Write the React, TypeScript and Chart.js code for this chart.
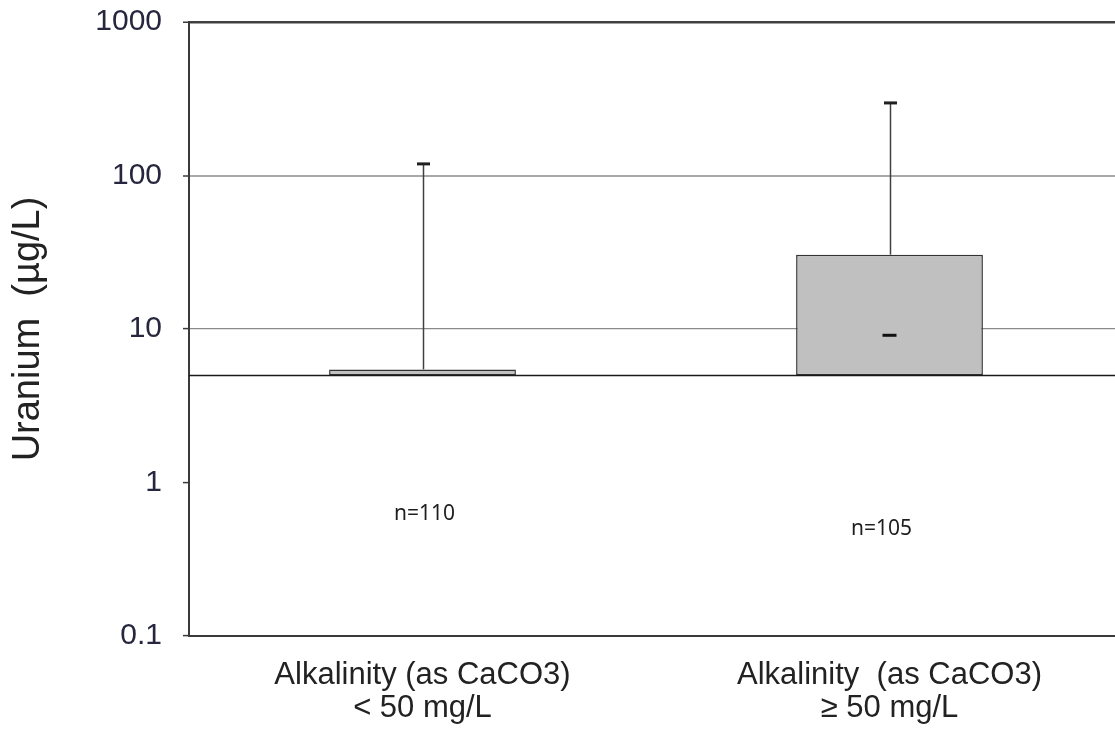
import React, { useEffect, useRef } from 'react';
import { Chart, registerables } from 'chart.js';

Chart.register(...registerables);

// ---- Data ----
const categories: string[][] = [
  ['Alkalinity (as CaCO3)', '< 50 mg/L'],
  ['Alkalinity  (as CaCO3)', '≥ 50 mg/L'],
];
const barBase = 5;
const barTops = [5.45, 30.5];
const errorTops = [119, 297];
const meanValues: (number | null)[] = [null, 9.1];
const sampleLabels = ['n=110', 'n=105'];
const yTickValues = [0.1, 1, 10, 100, 1000];
const yTickLabels = ['0.1', '1', '10', '100', '1000'];
const yTitle = 'Uranium  (µg/L)';

// ---- Styling / placement (not data) ----
const SAMPLE_LABEL_POS = [
  { dx: 2, v: 0.62 },
  { dx: -8, v: 0.494 },
];

const overlayPlugin = {
  id: 'overlay',
  afterDatasetsDraw(chart: any) {
    const { ctx, chartArea, scales } = chart;
    const x = scales.x;
    const y = scales.y;
    ctx.save();
    // base line at the bar origin
    const yb = Math.round(y.getPixelForValue(barBase)) + 0.5;
    ctx.strokeStyle = '#1a1a1a';
    ctx.lineWidth = 1.5;
    ctx.beginPath();
    ctx.moveTo(chartArea.left, yb);
    ctx.lineTo(chartArea.right, yb);
    ctx.stroke();

    // error bars
    errorTops.forEach((v, i) => {
      const cx = Math.round(x.getPixelForValue(i)) + 0.5;
      const y0 = y.getPixelForValue(barTops[i]);
      const y1 = y.getPixelForValue(v);
      ctx.strokeStyle = '#404040';
      ctx.lineWidth = 1.5;
      ctx.beginPath();
      ctx.moveTo(cx, y0);
      ctx.lineTo(cx, y1);
      ctx.stroke();
      ctx.strokeStyle = '#202020';
      ctx.lineWidth = 3;
      ctx.beginPath();
      ctx.moveTo(cx - 6.5, y1);
      ctx.lineTo(cx + 6.5, y1);
      ctx.stroke();
    });

    // sample size labels
    ctx.fillStyle = '#1e1e1e';
    ctx.font = '21px "Noto Sans", "Open Sans", sans-serif';
    ctx.textAlign = 'center';
    ctx.textBaseline = 'middle';
    sampleLabels.forEach((t, i) => {
      const p = SAMPLE_LABEL_POS[i];
      ctx.fillText(t, x.getPixelForValue(i) + p.dx, y.getPixelForValue(p.v));
    });
    ctx.restore();
  },
};

function gridColor(v: number) {
  if (v === 1000) return '#404040';
  if (v === 100) return '#a8a8a8';
  if (v === 10) return '#8a8a8a';
  return 'rgba(0,0,0,0)';
}
function gridWidth(v: number) {
  if (v === 1000) return 2.5;
  if (v === 100) return 2;
  return 1.2;
}

export default function App() {
  const ref = useRef<HTMLCanvasElement | null>(null);
  useEffect(() => {
    if (!ref.current) return;
    const chart = new Chart(ref.current, {
      type: 'bar',
      data: {
        labels: categories as any,
        datasets: [
          {
            type: 'line' as any,
            data: meanValues as any,
            showLine: false,
            pointStyle: 'line',
            pointRadius: 7,
            pointBorderWidth: 3,
            pointBorderColor: '#111',
            pointBackgroundColor: '#111',
            borderColor: '#111',
            order: 0,
          } as any,
          {
            type: 'bar',
            data: barTops.map((t) => [barBase, t]) as any,
            backgroundColor: '#c0c0c0',
            borderColor: '#333',
            borderWidth: 1.5,
            borderSkipped: false,
            categoryPercentage: 1,
            barPercentage: 0.4,
            order: 1,
          },
        ],
      },
      options: {
        responsive: false,
        animation: false,
        devicePixelRatio: 1,
        layout: { padding: { top: 22, right: 12, left: 0, bottom: 0 } },
        plugins: { legend: { display: false }, tooltip: { enabled: false } },
        scales: {
          x: {
            afterFit: (s: any) => {
              s.height = 94;
            },
            grid: { display: true, drawOnChartArea: false, drawTicks: false, color: 'rgba(0,0,0,0)' },
            border: { display: true, color: '#3a3a3a', width: 2 },
            ticks: {
              color: '#222',
              font: { family: '"Liberation Sans", Arial, sans-serif', size: 31, lineHeight: 1.07 },
              padding: 23,
              maxRotation: 0,
              autoSkip: false,
            },
          },
          y: {
            type: 'logarithmic',
            min: 0.1,
            max: 1000,
            afterFit: (s: any) => {
              s.width = 189;
              s.paddingTop = 0;
              s.paddingBottom = 0;
            },
            afterBuildTicks: (s: any) => {
              s.ticks = yTickValues.map((v) => ({ value: v }));
            },
            grid: {
              color: (c: any) => gridColor(c.tick?.value),
              lineWidth: (c: any) => gridWidth(c.tick?.value),
              tickColor: '#3a3a3a',
              tickLength: 6,
              tickWidth: 1.5,
            } as any,
            border: { display: true, color: '#3a3a3a', width: 2 },
            ticks: {
              color: '#26263e',
              font: { family: '"Liberation Sans", Arial, sans-serif', size: 30 },
              padding: 21,
              callback: (v: any) => {
                const i = yTickValues.indexOf(Number(v));
                return i >= 0 ? yTickLabels[i] : '';
              },
            },
            title: {
              display: true,
              text: yTitle,
              color: '#222',
              font: { family: '"Liberation Sans", Arial, sans-serif', size: 38 },
              padding: { top: 6, bottom: 0 },
            },
          },
        },
      },
      plugins: [overlayPlugin],
    });
    return () => chart.destroy();
  }, []);

  return (
    <div
      style={{
        position: 'fixed',
        left: 0,
        top: 0,
        width: 1115,
        height: 730,
        overflow: 'hidden',
        background: '#fff',
      }}
    >
      <canvas ref={ref} width={1135} height={730} style={{ display: 'block' }} />
    </div>
  );
}
